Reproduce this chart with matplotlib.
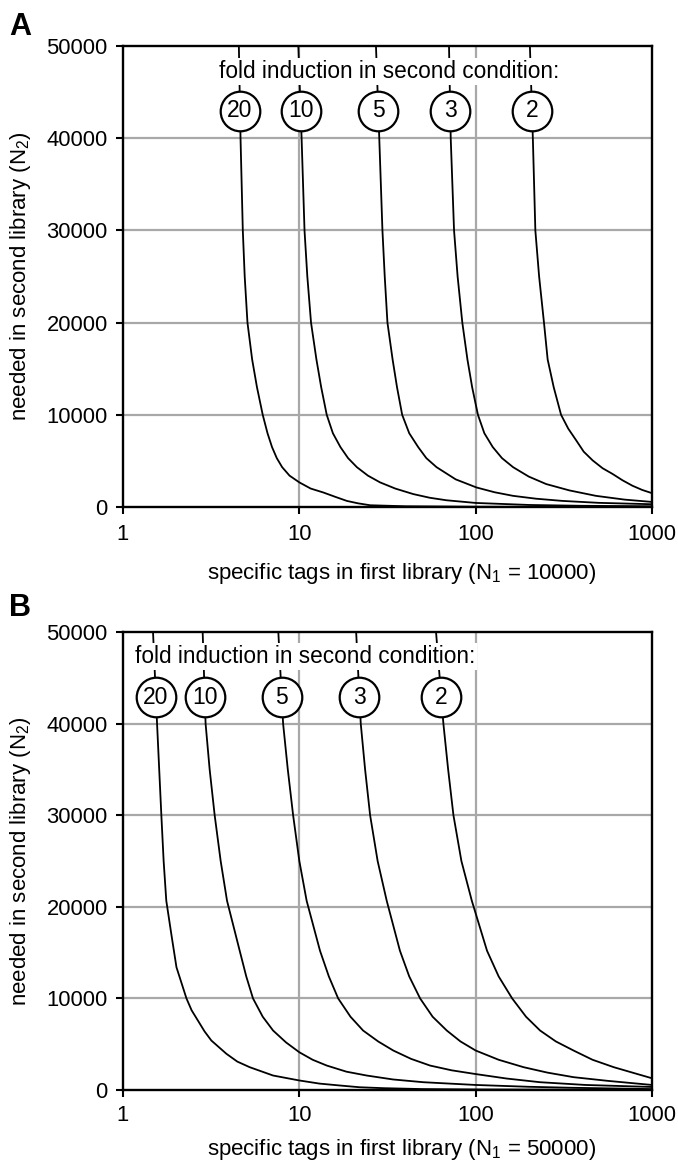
import numpy as np
import matplotlib
matplotlib.use("Agg")
import matplotlib.pyplot as plt

plt.rcParams['font.family'] = ['Liberation Sans', 'DejaVu Sans']
plt.rcParams['mathtext.fontset'] = 'custom'
plt.rcParams['mathtext.rm'] = 'Liberation Sans'
plt.rcParams['mathtext.it'] = 'Liberation Sans:italic'

fold_labels = ["20", "10", "5", "3", "2"]

# Panel A (N1 = 10000)
a20_x = [4.54, 4.64, 4.78, 4.9, 5.08, 5.4, 5.75, 6.2, 6.6, 7.0, 7.45, 7.99, 8.8, 10, 11.6, 13.7, 16, 18.6, 21.5, 25.2, 40, 100, 1000]
a20_y = [50000, 40000, 30000, 25000, 20000, 16000, 13000, 10000, 8000, 6500, 5300, 4320, 3400, 2670, 2000, 1570, 1100, 660, 400, 190, 80, 30, 10]
a10_x = [9.87, 10.3, 10.7, 11.1, 11.65, 12.5, 13.3, 14.3, 15.5, 17.1, 18.9, 21.2, 24.5, 28.7, 35, 44.3, 55, 68.3, 100, 202, 400, 1000]
a10_y = [50000, 40000, 30000, 25000, 20000, 16000, 13000, 10000, 8000, 6500, 5300, 4320, 3400, 2670, 2000, 1400, 1000, 730, 440, 220, 130, 80]
a5_x = [27.2, 28.4, 29.6, 30.5, 31.6, 33.8, 35.8, 38.3, 42, 47.2, 52.5, 60, 77, 101, 128, 163, 220, 311, 500, 1000]
a5_y = [50000, 40000, 30000, 25000, 20000, 16000, 13000, 10000, 8000, 6500, 5300, 4320, 3000, 2120, 1600, 1210, 900, 660, 450, 300]
a3_x = [70.6, 72.2, 75.4, 79, 84, 89.8, 95.5, 103, 112, 125, 141, 163, 200, 251, 340, 481, 700, 1000]
a3_y = [50000, 40000, 30000, 25000, 20000, 16000, 13000, 10000, 8000, 6500, 5300, 4320, 3300, 2490, 1800, 1210, 800, 550]
a2_x = [203, 211, 218, 229, 244, 256, 277, 305, 335, 371, 410, 461, 525, 597, 680, 774, 880, 1000]
a2_y = [50000, 40000, 30000, 25000, 20000, 16000, 13000, 10000, 8500, 7250, 6000, 5050, 4200, 3590, 2900, 2310, 1850, 1500]

# Panel B (N1 = 50000)
b20_x = [1.48, 1.56, 1.65, 1.70, 1.76, 1.88, 2.01, 2.29, 2.45, 2.66, 2.9, 3.17, 3.86, 4.45, 5.23, 7.1, 10, 13, 17, 22, 30, 50, 100, 1000]
b20_y = [50000, 40000, 30000, 25000, 20660, 17000, 13400, 10000, 8700, 7580, 6400, 5400, 3950, 3100, 2490, 1580, 1040, 700, 490, 300, 200, 100, 60, 20]
b10_x = [2.83, 2.94, 3.1, 3.31, 3.58, 3.89, 4.59, 5.0, 5.46, 6.2, 7.1, 8.4, 10, 11.9, 14.3, 18.5, 24.1, 34, 50.5, 100, 200, 359, 1000]
b10_y = [50000, 40000, 35000, 30000, 25000, 20660, 15200, 12400, 10000, 8000, 6490, 5200, 4120, 3300, 2670, 2000, 1580, 1150, 850, 550, 350, 240, 100]
b5_x = [7.6, 8.09, 8.6, 9.22, 10.0, 11.0, 13.1, 14.7, 16.6, 19.5, 23.0, 28, 34.1, 43, 55.1, 73, 100, 150, 232, 420, 1000]
b5_y = [50000, 40000, 35000, 30000, 25000, 20660, 15200, 12400, 10000, 8000, 6490, 5300, 4310, 3400, 2670, 2150, 1740, 1250, 850, 550, 330]
b3_x = [21.0, 22.3, 23.6, 25.2, 27.8, 31.3, 37.2, 42, 48.4, 57, 68.6, 82, 100, 135, 187, 255, 359, 560, 1000]
b3_y = [50000, 40000, 35000, 30000, 25000, 20660, 15200, 12400, 10000, 8000, 6490, 5300, 4310, 3300, 2490, 1900, 1400, 1000, 550]
b2_x = [59.6, 65.6, 69.8, 74.8, 83, 95.1, 116, 135, 161, 193, 232, 285, 359, 460, 607, 790, 1000]
b2_y = [50000, 40000, 35000, 30000, 25000, 20660, 15200, 12400, 10000, 8000, 6490, 5300, 4310, 3300, 2490, 1850, 1280]

panels = [
    dict(letter="A", n1="10000",
         curves=[(a20_x, a20_y), (a10_x, a10_y), (a5_x, a5_y), (a3_x, a3_y), (a2_x, a2_y)],
         rect=[123/678, 1-507/1168, 529/678, 461/1168],
         text_y=47200, circ_y=43000, tick_pad=7, label_pad=12, letter_dy=0.008),
    dict(letter="B", n1="50000",
         curves=[(b20_x, b20_y), (b10_x, b10_y), (b5_x, b5_y), (b3_x, b3_y), (b2_x, b2_y)],
         rect=[123/678, 1-1090/1168, 529/678, 458/1168],
         text_y=47300, circ_y=42900, tick_pad=6, label_pad=8, letter_dy=0.02),
]

fig = plt.figure(figsize=(6.78, 11.68), dpi=100)
grid_c = '#a8a8a8'
for p in panels:
    ax = fig.add_axes(p["rect"])
    ax.set_xscale('log')
    ax.set_xlim(1, 1000)
    ax.set_ylim(0, 50000)
    ax.set_xticks([1, 10, 100, 1000])
    ax.set_xticklabels(["1", "10", "100", "1000"])
    ax.xaxis.set_minor_locator(matplotlib.ticker.NullLocator())
    ax.set_yticks([0, 10000, 20000, 30000, 40000, 50000])
    ax.set_yticklabels(["0", "10000", "20000", "30000", "40000", "50000"])
    for v in [10, 100]:
        ax.axvline(v, color=grid_c, lw=1.6, zorder=0)
    for v in [10000, 20000, 30000, 40000]:
        ax.axhline(v, color=grid_c, lw=1.6, zorder=0)
    for s in ax.spines.values():
        s.set_linewidth(1.7)
    ax.tick_params(axis='both', direction='out', length=5, width=1.5,
                   labelsize=15.8, pad=6)
    ax.tick_params(axis='x', pad=p["tick_pad"])
    for (cx, cy) in p["curves"]:
        ax.plot(cx, cy, color='black', lw=1.3, zorder=2, solid_joinstyle='round')
    # circles with fold numbers
    first_x = None
    for (cx, cy), lab in zip(p["curves"], fold_labels):
        lx = np.log10(cx)[::-1]
        yy = np.array(cy)[::-1]
        xc = 10 ** np.interp(p["circ_y"], yy, lx)
        if first_x is None:
            first_x = xc
        ax.plot([xc], [p["circ_y"]], marker='o', ms=28.5, mfc='white', mec='black',
                mew=1.6, zorder=4, clip_on=False)
        ax.text(xc, p["circ_y"], lab, ha='center', va='center', fontsize=16.5, zorder=5)
    ax.annotate("fold induction in second condition:", xy=(first_x, p["text_y"]),
                xytext=(-15, 0), textcoords='offset points', ha='left', va='center',
                fontsize=16.3, zorder=5,
                bbox=dict(facecolor='white', edgecolor='none', pad=1.5))
    ax.set_xlabel("specific tags in first library (N$_1$ = %s)" % p["n1"], fontsize=16,
                  labelpad=p["label_pad"])
    ax.xaxis.label.set_x(0.527)
    ax.set_ylabel("needed in second library (N$_2$)", fontsize=16, labelpad=10)
    ax.text(-0.215, 1.0 + p["letter_dy"], p["letter"], transform=ax.transAxes, fontsize=22,
            fontweight='bold', ha='left', va='bottom')

fig.savefig("out.png", dpi=100)
